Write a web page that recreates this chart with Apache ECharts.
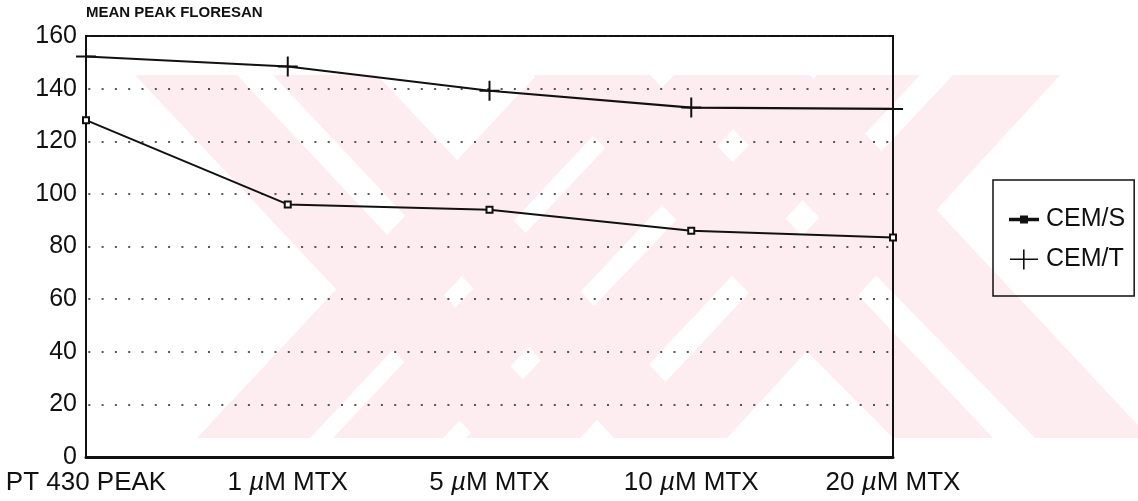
<!DOCTYPE html>
<html>
<head>
<meta charset="utf-8">
<script src="https://cdn.jsdelivr.net/npm/echarts@6/dist/echarts.min.js"></script>
<style>
  html, body { margin: 0; padding: 0; background: #fff; }
  #chart { width: 1138px; height: 501px; }
</style>
</head>
<body>
<div id="chart"></div>
<script>
// ---- data ----
const categories = ['PT 430 PEAK', '1 µM MTX', '5 µM MTX', '10 µM MTX', '20 µM MTX'];
const cemS = [128, 96, 94, 86, 83.4];
const cemT = [152.2, 148.4, 139.2, 132.8, 132.3];
const seriesNames = ['CEM/S', 'CEM/T'];
const yMin = 0, yMax = 160, yStep = 20;
const titleText = 'MEAN PEAK FLORESAN';

// ---- decorative scan watermark (pale pink stripes) ----
const wmTop = 75, wmBot = 438;
const downStripes = [[135, 237, 476, 578], [273, 377, 614, 718], [533, 650, 893, 993], [680, 810, 1035, 1150]];
const upStripes = [[197, 310, 537, 650], [333, 443, 674, 784], [466, 580, 817, 920], [613, 727, 953, 1060]];
const wm = [];
downStripes.forEach(s => wm.push([[s[0], wmTop], [s[1], wmTop], [s[3], wmBot], [s[2], wmBot]]));
upStripes.forEach(s => wm.push([[s[0], wmBot], [s[1], wmBot], [s[3], wmTop], [s[2], wmTop]]));

const plusPath = 'path://M9,0h2v9h9v2h-9v9h-2v-9h-9v-2h9z';
const legendIconS = 'path://M0,2.2h28v1.6h-28z M11,0h6v6h-6z';
const legendIconT = 'path://M0,9h28v1.6h-28z M13,0h1.6v20h-1.6z';
const font = '"Liberation Sans", Arial, sans-serif';

const chart = echarts.init(document.getElementById('chart'), null, { renderer: 'canvas' });
chart.setOption({
  animation: false,
  backgroundColor: '#fff',
  title: {
    text: titleText,
    left: 86, top: 5, padding: 0,
    textStyle: { fontFamily: font, fontSize: 15, fontWeight: 'bold', color: '#111' }
  },
  graphic: wm.map(p => ({
    type: 'polygon', silent: true, z: -10,
    shape: { points: p },
    style: { fill: '#fdedf0' }
  })),
  grid: {
    left: 86, right: 245, top: 36, bottom: 44,
    show: true, borderColor: '#111', borderWidth: 2, backgroundColor: 'transparent'
  },
  legend: {
    orient: 'vertical',
    left: 993, top: 180,
    padding: [27, 9, 24, 16],
    itemWidth: 28, itemHeight: 20, itemGap: 15,
    symbolKeepAspect: true,
    borderColor: '#111', borderWidth: 1.5,
    textStyle: { fontFamily: font, fontSize: 25, lineHeight: 25, color: '#111', padding: [0, 0, 0, 3] },
    data: [
      { name: seriesNames[0], icon: legendIconS, itemStyle: { color: '#111' } },
      { name: seriesNames[1], icon: legendIconT, itemStyle: { color: '#111' } }
    ]
  },
  xAxis: {
    type: 'category',
    data: categories,
    boundaryGap: false,
    axisLine: { show: true, lineStyle: { color: '#111', width: 3 } },
    axisTick: { show: false },
    splitLine: { show: false },
    axisLabel: {
      margin: 13,
      interval: 0,
      color: '#111',
      fontFamily: font,
      fontSize: 26,
      formatter: v => v.replace('µ', '{i|µ}'),
      rich: { i: { fontFamily: font, fontSize: 26, fontStyle: 'italic', color: '#111' } }
    }
  },
  yAxis: {
    type: 'value',
    min: yMin, max: yMax, interval: yStep,
    axisLine: { show: true, lineStyle: { color: '#111', width: 2 } },
    axisTick: { show: false },
    axisLabel: { margin: 9, color: '#111', fontFamily: font, fontSize: 25 },
    splitLine: { show: true, lineStyle: { color: '#222', width: 1.5, type: [2, 11.3], dashOffset: 11 } }
  },
  series: [
    {
      name: seriesNames[0], type: 'line', data: cemS,
      symbol: 'emptyRect', symbolSize: 6, showSymbol: true,
      lineStyle: { color: '#111', width: 2 },
      itemStyle: { color: '#111', borderColor: '#111', borderWidth: 2 },
      z: 3
    },
    {
      name: seriesNames[1], type: 'line', data: cemT,
      symbol: plusPath, symbolSize: 20, showSymbol: true,
      lineStyle: { color: '#111', width: 2.2 },
      itemStyle: { color: '#111' },
      z: 3
    }
  ]
});
</script>
</body>
</html>
